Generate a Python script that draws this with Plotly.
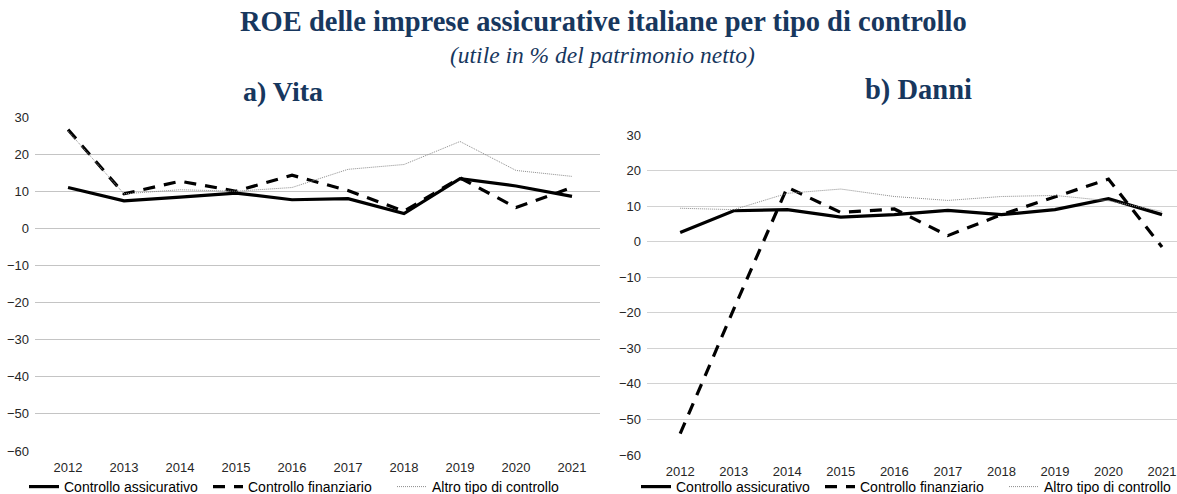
import plotly.graph_objects as go

W, H = 1177, 494

years = ["2012", "2013", "2014", "2015", "2016", "2017", "2018", "2019", "2020", "2021"]

# a) Vita
vita_assicurativo = [11.0, 7.4, 8.4, 9.5, 7.7, 8.0, 4.0, 13.4, 11.4, 8.6]
vita_finanziario = [26.6, 9.3, 12.7, 10.0, 14.3, 10.2, 4.6, 13.6, 5.6, 11.0]
vita_altro = [26.2, 9.3, 10.4, 10.0, 11.0, 15.9, 17.2, 23.4, 15.6, 14.0]

# b) Danni
danni_assicurativo = [2.6, 8.7, 9.0, 6.9, 7.6, 8.8, 7.6, 9.0, 12.1, 7.6]
danni_finanziario = [-54.0, -19.0, 15.3, 8.2, 9.2, 1.7, 7.6, 12.7, 17.6, -1.5]
danni_altro = [9.4, 9.0, 13.6, 14.8, 12.7, 11.6, 12.7, 13.0, 11.5, 8.5]

series_names = ["Controllo assicurativo", "Controllo finanziario", "Altro tipo di controllo"]
y_ticks = [30, 20, 10, 0, -10, -20, -30, -40, -50, -60]

styles = [
    dict(color="#000000", width=3.2, dash="solid"),
    dict(color="#000000", width=3.2, dash="12px,9px"),
    dict(color="#8c8c8c", width=1, dash="1px,1px"),
]

fig = go.Figure()

for vals, st, name in zip([vita_assicurativo, vita_finanziario, vita_altro], styles, series_names):
    fig.add_trace(go.Scatter(x=years, y=vals, mode="lines", name=name, line=st,
                             xaxis="x", yaxis="y", legend="legend"))
for vals, st, name in zip([danni_assicurativo, danni_finanziario, danni_altro], styles, series_names):
    fig.add_trace(go.Scatter(x=years, y=vals, mode="lines", name=name, line=st,
                             xaxis="x2", yaxis="y2", legend="legend2"))

def px_x(p):
    return p / W

def px_y(p):
    return 1 - p / H

tickfont = dict(family="Liberation Sans, Arial, sans-serif", size=13, color="#262626")

common_x = dict(type="category", showgrid=False, showline=False, zeroline=False,
                ticks="", tickfont=tickfont, ticklabelstandoff=7)
common_y = dict(range=[-60, 30], tickvals=y_ticks, showgrid=True, gridwidth=1,
                zeroline=False, showline=False, ticks="", tickfont=tickfont,
                ticklabelstandoff=5)

navy = "#17375e"
serif = "Liberation Serif, Times New Roman, serif"
legfont = dict(family="Liberation Sans, Arial, sans-serif", size=14, color="#000000")

fig.update_layout(
    width=W, height=H,
    margin=dict(l=0, r=0, t=0, b=0, autoexpand=False),
    paper_bgcolor="white", plot_bgcolor="white",
    xaxis=dict(common_x, domain=[px_x(35), px_x(600)], range=[-0.59, 9.5], anchor="y"),
    yaxis=dict(common_y, domain=[px_y(451), px_y(117)], anchor="x", gridcolor="#c4c4c4"),
    xaxis2=dict(common_x, domain=[px_x(647), 1.0], range=[-0.62, 9.28], anchor="y2"),
    yaxis2=dict(common_y, domain=[px_y(455), px_y(135)], anchor="x2", gridcolor="#d2d2d2"),
    legend=dict(orientation="h", x=px_x(24), y=px_y(487), xanchor="left", yanchor="middle",
                font=legfont, bgcolor="rgba(0,0,0,0)", itemwidth=30, tracegroupgap=0,
                entrywidth=139, entrywidthmode="pixels"),
    legend2=dict(orientation="h", x=px_x(636), y=px_y(487), xanchor="left", yanchor="middle",
                 font=legfont, bgcolor="rgba(0,0,0,0)", itemwidth=30, tracegroupgap=0,
                 entrywidth=139, entrywidthmode="pixels"),
    showlegend=True,
    annotations=[
        dict(text="<b>ROE delle imprese assicurative italiane per tipo di controllo</b>",
             x=px_x(603), y=px_y(22), xref="paper", yref="paper", showarrow=False,
             xanchor="center", yanchor="middle", font=dict(family=serif, size=28.5, color=navy)),
        dict(text="<i>(utile in % del patrimonio netto)</i>",
             x=px_x(602), y=px_y(55), xref="paper", yref="paper", showarrow=False,
             xanchor="center", yanchor="middle", font=dict(family=serif, size=23.5, color=navy)),
        dict(text="<b>a) Vita</b>",
             x=px_x(283), y=px_y(91), xref="paper", yref="paper", showarrow=False,
             xanchor="center", yanchor="middle", font=dict(family=serif, size=28, color=navy)),
        dict(text="<b>b) Danni</b>",
             x=px_x(918), y=px_y(90), xref="paper", yref="paper", showarrow=False,
             xanchor="center", yanchor="middle", font=dict(family=serif, size=28.5, color=navy)),
    ],
)

post = ("document.body.style.margin='0';document.body.style.overflow='hidden';"
        "var gd=document.getElementById('{plot_id}');"
        "gd.style.position='fixed';gd.style.top='0px';gd.style.left='0px';")

fig.write_html("out.html", post_script=post, config={"displayModeBar": False})
